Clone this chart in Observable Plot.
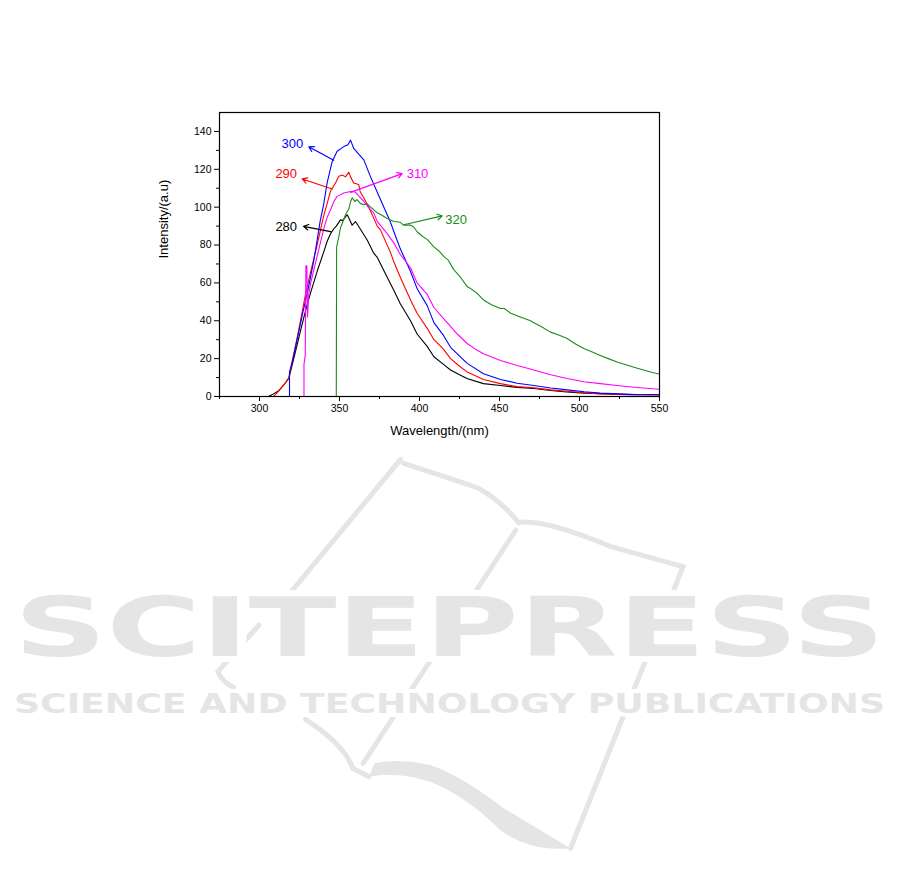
<!DOCTYPE html>
<html>
<head>
<meta charset="utf-8">
<script src="https://cdn.jsdelivr.net/npm/d3@7"></script>
<script src="https://cdn.jsdelivr.net/npm/@observablehq/plot@0.6"></script>
<style>
  html, body { margin: 0; padding: 0; background: #fff; }
  #wrap { position: relative; width: 901px; height: 887px; overflow: hidden; }
  #mark { position: absolute; left: 0; top: 0; }
  #chart { position: absolute; left: 0; top: 0; }
</style>
</head>
<body>
<div id="wrap">
  <svg id="mark" width="901" height="887"></svg>
  <div id="chart"></div>
</div>
<script>
// ---- data (wavelength nm, intensity a.u.) ----
const s280 = [[305.6,0],[308,1],[312,3],[316,7],[318.3,9.5],[322,22],[326,36],[329,46],[332,55],[336,66],[340,76],[342.3,82],[344.4,86],[346.4,88.5],[348,90],[350.6,93.3],[352,93],[354.8,96],[356,94],[357.9,90.5],[360,92.4],[363,88.5],[367.3,82.7],[371.4,75.7],[373.6,73.5],[378,66],[384,56],[388,49],[394.4,40],[398.5,33],[404.8,26.5],[409,21],[415,17],[419.4,14],[425,11.5],[430,9.4],[440,6.8],[450.6,5.8],[461,4.8],[471.5,4.2],[482,3.2],[492,2.4],[503,1.8],[513,1.5],[525,1.2],[550,0.9]];
const s290 = [[308.8,0],[312,3],[316,7],[318.3,10],[321,21],[324,33],[326.5,44],[328.75,54],[332,66],[336,80],[340,95],[342.3,102],[344.4,108.5],[347.5,112.8],[349.6,116.3],[351.7,117],[353.75,116],[355.8,118.5],[356.9,116],[358.9,112.8],[362,112],[363,108],[365.2,105],[369.4,98],[373.6,90],[375.6,88],[381.9,76],[384,71],[388,63],[394.4,51],[398.5,44],[404.8,36],[409,30],[415,25],[419.4,20],[425,16],[429.8,13],[440,9],[450.6,6.8],[461,5.2],[471.5,4.6],[482,3.5],[492,2.8],[503,2],[513,1.4],[530,1],[550,0.9]];
const s300 = [[318.75,0],[318.75,12.9],[321,20],[324,32],[327,44],[330,55],[334,72],[338,93],[340,101],[342.3,113],[345.4,124],[348.5,129.5],[352.7,132],[355.3,133],[356.9,135.4],[358.9,131],[362,128],[365.2,125],[369.4,116],[375.6,104],[381.9,92],[384,87],[388,78],[394.4,66],[398.5,57],[404.8,48],[409,39],[415.2,32],[419.4,26],[429.8,17.5],[440,12],[450.6,9],[461,7],[471.5,5.8],[482,4.5],[492.3,3.5],[503,2.5],[513,1.8],[534,1],[550,0.9]];
const s310 = [[327.8,0],[327.8,17],[328.6,22],[329,69],[329.6,69],[330,42],[330.8,54],[332,60],[334,67],[336,74],[338,81],[340,88],[342,94],[344.4,98.6],[346.5,103],[348.5,105.7],[352.7,107.5],[356.9,108.3],[359.8,108],[362,106],[365.2,103],[368,100],[371.4,97],[373.6,92.5],[379.8,86],[384,81],[388,75],[394.4,68],[398.5,60],[404.8,54],[409,47],[415.2,41],[419.4,37],[423.6,33],[429.8,28],[435,25],[440,22.6],[450.6,19],[461,16.4],[471.5,14],[482,11.5],[492.3,9.5],[502.7,7.8],[513,6.8],[523.5,5.8],[534,4.9],[550,3.8]];
const s320 = [[348,0],[348,2],[348.2,79],[349.5,84],[350.6,89],[352,92],[353.75,96],[355.8,99],[357,103],[358,105],[359.5,103],[360.9,104],[363,102],[365.2,101.3],[367,102],[369.4,100],[371,99],[373.6,97],[376,96],[379.8,94],[384,92.4],[388,92],[390,90.5],[394.4,90.5],[396.4,89.5],[398.5,87],[402,84.5],[404.8,83],[409,79],[412,77],[415.2,74],[418,72],[421.4,67],[425.6,63],[429.8,58],[432,57],[436,54.5],[440,51],[445,48.5],[450.6,46.5],[453,46.5],[457,44],[463,42],[469.4,40],[471.5,39],[476,37],[481.9,34],[487,32.5],[492.3,30.6],[497,28],[502.7,25.3],[508,23.5],[513,21.7],[518,20],[523.5,18.2],[528,17],[534,15.5],[540,14],[545,12.8],[550,11.8]];

const seriesNames = ["280", "290", "300", "310", "320"];
const seriesColors = ["#000000", "#ff0000", "#0000ff", "#ff00ff", "#1a8c1a"];
const seriesData = [s280, s290, s300, s310, s320];

// annotation labels: text position and arrow (from curve to label)
const labelX = [316.7, 316.7, 320.6, 398.75, 422.9];
const labelY = [89.8, 117.7, 133.6, 117.7, 93.3];
const arrowFromX = [344.4, 345.4, 346.4, 356.9, 390.2];
const arrowFromY = [87.1, 109.6, 124.8, 107.8, 90.7];
const arrowToX = [327.5, 326.7, 330.8, 389.2, 414.2];
const arrowToY = [89.9, 114.9, 131.9, 117.7, 95.4];

const xMajor = [300, 350, 400, 450, 500, 550];
const xMinor = [275, 325, 375, 425, 475, 525];
const yMajor = [0, 20, 40, 60, 80, 100, 120, 140];
const yMinor = [10, 30, 50, 70, 90, 110, 130, 150];

const xLabel = "Wavelength/(nm)";
const yLabel = "Intensity/(a.u)";

// ---- build tables ----
const lineRows = seriesNames.flatMap((name, i) =>
  seriesData[i].map(([x, y]) => ({name, x, y})));
const ann = seriesNames.map((name, i) => ({
  name, color: seriesColors[i],
  lx: labelX[i], ly: labelY[i],
  x1: arrowFromX[i], y1: arrowFromY[i], x2: arrowToX[i], y2: arrowToY[i]
}));

const chart = Plot.plot({
  width: 901,
  height: 450,
  marginLeft: 219,
  marginRight: 242,
  marginTop: 112,
  marginBottom: 54,
  style: {fontFamily: "'Liberation Sans', Arial, sans-serif", fontSize: "10.5px", background: "transparent", color: "#000"},
  x: {domain: [275, 550]},
  y: {domain: [0, 150]},
  color: {domain: seriesNames, range: seriesColors},
  marks: [
    Plot.line(lineRows, {x: "x", y: "y", z: "name", stroke: "name", strokeWidth: 1.1, clip: true}),
    Plot.frame({stroke: "#000", strokeWidth: 1.2}),
    Plot.axisX(xMajor, {tickSize: 5, tickPadding: 3, label: null, tickFormat: d => d}),
    Plot.axisX(xMinor, {tickSize: 3, label: null, tickFormat: () => ""}),
    Plot.axisY(yMajor, {tickSize: 5, tickPadding: 3, label: null, tickFormat: d => d}),
    Plot.axisY(yMinor.filter(v => v < 150), {tickSize: 3, label: null, tickFormat: () => ""}),
    Plot.arrow(ann, {x1: "x1", y1: "y1", x2: "x2", y2: "y2", stroke: "color", strokeWidth: 1.2, headLength: 7, bend: 0}),
    Plot.text(ann, {x: "lx", y: "ly", text: "name", fill: "color", fontSize: 13}),
    Plot.text([xLabel], {text: d => d, frameAnchor: "bottom", dy: 38, fontSize: 13}),
    Plot.text([yLabel], {text: d => d, frameAnchor: "left", rotate: -90, dx: -56, dy: 4, fontSize: 13})
  ]
});
document.getElementById("chart").appendChild(chart);

// ---- watermark (decoration, not data) ----
const wm = d3.select("#mark");
const g = "#e5e5e5";
const paths = [
  "M400.6,459.3 L291,592",
  "M259,625 L217.9,671.7 Q222,682 233.4,687.3",
  "M305.5,719.3 Q345,745 352.7,768.3 L368.9,776.7",
  "M403.5,463.3 Q461,481.7 478,488 Q500,500 518.7,522.7 Q541.8,518 611,546.7 L683,566.7 L570.6,848.3",
  "M515.9,530 L363.1,763.3"
];
paths.forEach(d => wm.append("path").attr("d", d).attr("fill", "none").attr("stroke", g).attr("stroke-width", 5).attr("stroke-linecap", "round"));
wm.append("path")
  .attr("d", "M369,776.7 Q403,770 438,785 Q470,800 500,830 Q530,852 570.6,848.3 Q540,830 501.4,806.7 Q460,775 430,765 Q400,758 374.6,763.3 Z")
  .attr("fill", g);
wm.append("text")
  .attr("x", 14).attr("y", 656)
  .attr("textLength", 871).attr("lengthAdjust", "spacingAndGlyphs")
  .attr("font-family", "'DejaVu Sans', sans-serif").attr("font-weight", "bold")
  .attr("font-size", 82).attr("fill", g)
  .attr("stroke", "#fff").attr("stroke-width", 12).attr("paint-order", "stroke")
  .text("SCITEPRESS");
wm.append("text")
  .attr("x", 14).attr("y", 713)
  .attr("textLength", 871).attr("lengthAdjust", "spacingAndGlyphs")
  .attr("font-family", "'DejaVu Sans', sans-serif").attr("font-weight", "bold")
  .attr("font-size", 26).attr("fill", g)
  .attr("stroke", "#fff").attr("stroke-width", 8).attr("paint-order", "stroke")
  .text("SCIENCE AND TECHNOLOGY PUBLICATIONS");
</script>
</body>
</html>
